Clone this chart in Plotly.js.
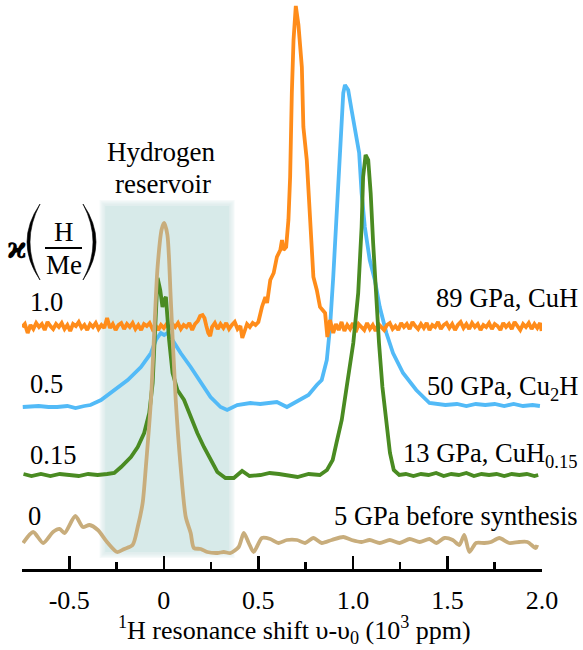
<!DOCTYPE html>
<html>
<head>
<meta charset="utf-8">
<script src="https://cdn.plot.ly/plotly-3.0.1.min.js"></script>
<style>html,body{margin:0;padding:0;background:#fff;} #chart{width:583px;height:650px;}</style>
</head>
<body>
<div id="chart"></div>
<script>
// ---- Data (x in 10^3 ppm, intensity in arbitrary units relative to each baseline) ----
const seriesNames = ["89 GPa, CuH", "50 GPa, Cu<sub>2</sub>H", "13 GPa, CuH<sub>0.15</sub>", "5 GPa before synthesis"];
const kappaLabels = ["1.0", "0.5", "0.15", "0"];
const offsets = [2.42, 1.64, 0.94, 0.28];

const orangeX = [
 -0.750,-0.735,-0.720,-0.705,-0.690,-0.675,-0.660,-0.645,-0.630,-0.615,
 -0.600,-0.585,-0.570,-0.555,-0.540,-0.525,-0.510,-0.495,-0.480,-0.465,
 -0.450,-0.435,-0.420,-0.405,-0.390,-0.375,-0.360,-0.345,-0.330,-0.315,
 -0.300,-0.285,-0.270,-0.255,-0.240,-0.225,-0.210,-0.195,-0.180,-0.165,
 -0.150,-0.135,-0.120,-0.105,-0.090,-0.075,-0.060,-0.045,-0.030,-0.015,
 0.000,0.015,0.030,0.045,0.060,0.075,0.090,0.105,0.120,0.135,
 0.150,0.165,0.180,0.192,0.205,0.215,0.225,0.235,0.245,0.255,
 0.270,0.285,0.300,0.315,0.330,0.345,0.360,0.375,0.390,0.405,
 0.415,0.425,0.440,0.455,0.470,0.485,0.500,
 0.519,0.537,0.546,0.563,0.581,0.598,0.616,0.625,0.633,0.647,0.659,0.668,0.677,0.686,0.698,0.712,0.730,0.738,0.756,0.774,0.791,0.809,0.826,0.853,0.865,0.879,0.896,
 0.910,0.925,0.940,0.955,0.970,0.985,1.000,1.015,1.030,1.045,
 1.060,1.075,1.090,1.105,1.120,1.135,1.150,1.165,1.180,1.195,
 1.210,1.225,1.240,1.255,1.270,1.285,1.300,1.315,1.330,1.345,
 1.360,1.375,1.390,1.405,1.420,1.435,1.450,1.465,1.480,1.495,
 1.510,1.525,1.540,1.555,1.570,1.585,1.600,1.615,1.630,1.645,
 1.660,1.675,1.690,1.705,1.720,1.735,1.750,1.765,1.780,1.795,
 1.810,1.825,1.840,1.855,1.870,1.885,1.900,1.915,1.930,1.945,
 1.960,1.975,1.990,1.998];
const orangeY = [
 0.00,0.03,-0.06,0.02,-0.02,0.04,0.00,0.03,-0.03,0.05,
 0.01,-0.02,0.03,0.00,0.04,-0.02,0.02,-0.04,0.03,0.01,
 0.05,-0.01,0.02,-0.03,0.03,0.00,0.04,-0.02,0.02,-0.01,
 0.09,-0.01,0.03,-0.03,0.02,0.04,-0.02,0.03,0.00,0.04,
 -0.02,0.02,-0.03,0.03,0.01,0.04,-0.02,0.02,-0.03,0.02,
 -0.01,0.03,-0.02,0.03,0.00,0.04,-0.02,0.02,0.00,0.04,
 -0.03,0.03,0.06,0.11,0.12,0.09,0.01,-0.06,-0.09,0.00,
 0.04,-0.02,0.03,-0.01,0.04,-0.02,0.02,0.05,-0.02,0.01,
 -0.11,-0.04,0.03,0.00,0.04,0.02,0.05,
 0.20,0.30,0.24,0.47,0.54,0.70,0.77,0.87,0.77,0.80,1.07,1.50,2.34,2.87,3.21,3.02,2.60,2.00,1.67,1.00,0.50,0.37,0.20,0.14,-0.10,0.07,-0.06,
 0.03,-0.03,0.05,-0.04,0.02,-0.02,0.04,-0.05,0.03,0.00,
 -0.03,0.04,-0.02,0.02,-0.04,0.03,0.00,-0.03,0.02,0.04,
 -0.02,0.01,-0.03,0.04,0.00,0.03,-0.02,0.05,0.01,-0.02,
 0.03,-0.01,0.04,-0.03,0.02,0.00,0.05,-0.02,0.02,0.04,
 -0.01,0.03,-0.03,0.02,0.05,-0.01,0.03,-0.02,0.04,0.00,
 0.03,-0.03,0.02,0.00,0.04,-0.02,0.03,0.01,-0.03,0.04,
 0.00,0.03,-0.02,0.05,0.01,-0.03,0.03,0.00,0.04,-0.02,
 0.03,-0.01,0.04,-0.04];

const blueX = [-0.746,-0.700,-0.662,-0.610,-0.564,-0.510,-0.467,-0.420,-0.388,-0.332,-0.262,-0.191,-0.121,-0.068,-0.042,-0.016,0.002,0.019,0.046,0.089,0.142,0.195,0.247,0.300,0.335,0.388,0.458,0.510,0.563,0.598,0.651,0.721,0.765,0.809,0.835,0.862,0.879,0.896,0.917,0.935,0.949,0.958,0.975,0.993,1.016,1.033,1.046,1.063,1.089,1.116,1.142,1.177,1.212,1.265,1.335,1.405,1.489,1.550,1.600,1.650,1.700,1.750,1.800,1.850,1.900,1.950,1.989];
const blueY = [-0.02,-0.01,-0.01,-0.02,-0.02,-0.01,-0.03,-0.01,0.00,0.05,0.15,0.25,0.38,0.52,0.65,0.72,0.70,0.72,0.65,0.52,0.38,0.22,0.08,-0.02,-0.05,0.00,0.02,0.01,0.02,0.03,-0.02,0.05,0.10,0.20,0.25,0.45,0.78,1.28,1.95,2.62,3.12,3.20,3.15,2.95,2.72,2.52,2.12,1.78,1.45,1.25,0.98,0.72,0.52,0.32,0.15,0.02,0.00,0.01,-0.01,0.01,0.00,0.01,-0.01,0.01,-0.01,0.00,-0.01];

const greenX = [-0.742,-0.700,-0.650,-0.600,-0.550,-0.500,-0.450,-0.400,-0.350,-0.300,-0.262,-0.226,-0.174,-0.138,-0.104,-0.077,-0.059,-0.051,-0.042,-0.033,-0.019,-0.007,0.002,0.011,0.019,0.028,0.046,0.072,0.107,0.142,0.177,0.212,0.247,0.283,0.326,0.370,0.414,0.453,0.511,0.560,0.609,0.660,0.707,0.766,0.825,0.863,0.893,0.913,0.941,0.967,1.002,1.028,1.046,1.054,1.067,1.081,1.094,1.107,1.121,1.138,1.156,1.174,1.196,1.216,1.245,1.280,1.320,1.360,1.400,1.440,1.480,1.520,1.560,1.600,1.640,1.680,1.720,1.760,1.800,1.840,1.880,1.920,1.960,1.980];
const greenY = [0.01,-0.01,0.01,-0.01,0.01,0.00,-0.01,0.01,0.00,0.01,0.02,0.08,0.18,0.28,0.42,0.62,0.92,1.25,1.68,1.97,1.85,1.68,1.75,1.78,1.58,1.35,1.02,0.85,0.75,0.58,0.42,0.28,0.15,0.03,-0.03,-0.03,0.04,-0.01,0.00,0.02,0.01,-0.01,-0.02,0.01,0.00,0.05,0.15,0.32,0.55,0.88,1.32,1.82,2.48,2.98,3.20,3.15,2.82,2.32,1.82,1.32,0.88,0.55,0.22,0.05,0.00,0.01,-0.01,0.01,0.00,0.02,-0.01,0.01,0.00,0.02,-0.01,0.01,0.00,0.01,-0.01,0.01,0.00,0.01,-0.01,0.00];

const tanX = [-0.744,-0.691,-0.638,-0.586,-0.551,-0.525,-0.468,-0.428,-0.393,-0.349,-0.296,-0.247,-0.209,-0.165,-0.138,-0.112,-0.095,-0.068,-0.051,-0.033,-0.011,0.002,0.019,0.037,0.063,0.089,0.116,0.142,0.159,0.195,0.230,0.283,0.317,0.353,0.396,0.423,0.449,0.475,0.519,0.563,0.607,0.651,0.704,0.747,0.791,0.835,0.888,0.949,0.993,1.046,1.089,1.142,1.195,1.247,1.300,1.353,1.405,1.441,1.484,1.528,1.563,1.589,1.616,1.651,1.695,1.730,1.774,1.826,1.879,1.923,1.967,1.975];
const tanY = [-0.02,0.09,-0.02,0.09,0.12,0.08,0.25,0.14,0.16,0.11,-0.02,-0.11,-0.08,-0.04,0.14,0.38,0.74,1.41,2.08,2.74,3.12,3.18,3.06,2.41,1.41,0.74,0.24,0.08,-0.07,-0.08,-0.11,-0.12,-0.11,-0.12,-0.06,0.08,-0.02,-0.11,0.03,0.02,-0.02,0.01,0.01,-0.02,0.03,-0.02,0.01,0.04,0.01,-0.01,0.01,-0.02,0.01,-0.02,0.02,-0.01,0.02,-0.02,0.03,0.01,-0.04,0.06,-0.11,-0.02,-0.02,-0.01,0.03,-0.02,-0.01,-0.01,-0.07,-0.04];

const reservoir = [-0.31, 0.345]; // x-extent of shaded hydrogen-reservoir band

const tickVals = [-0.5, 0, 0.5, 1.0, 1.5, 2.0];
const tickText = ["-0.5", "0", "0.5", "1.0", "1.5", "2.0"];
const minorTickVals = [-0.75, -0.25, 0.25, 0.75, 1.25, 1.75];

// ---- Styling ----
const colors = ["#FF8C1A", "#52BAF7", "#4A8B22", "#C8AD7C"];
const serif = "'Liberation Serif', 'Times New Roman', serif";
const W = 583, H = 650, ML = 22, MR = 41, MT = 0, MB = 81;
const PW = W - ML - MR, PH = H - MT - MB;
const px = v => (v - ML) / PW;          // pixel x -> paper x
const py = v => (PH + MT - v) / PH;      // pixel y -> paper y

function shift(arr, off) { return arr.map(v => v + off); }

const traces = [
  {x: blueX, y: shift(blueY, offsets[1]), color: colors[1], shape: 'linear'},
  {x: orangeX, y: shift(orangeY, offsets[0]), color: colors[0], shape: 'linear'},
  {x: greenX, y: shift(greenY, offsets[2]), color: colors[2], shape: 'linear'},
  {x: tanX, y: shift(tanY, offsets[3]), color: colors[3], shape: 'spline'}
].map(t => ({x: t.x, y: t.y, type: 'scatter', mode: 'lines', hoverinfo: 'skip',
  line: {color: t.color, width: 3.8, shape: t.shape, smoothing: 0.7}}));

const shapes = [];
// soft-edged shaded band
const bandY = [0.17, 3.63];
for (let i = 5; i >= 1; i--) {
  shapes.push({type: 'rect', xref: 'x', yref: 'y', layer: 'below', line: {width: 0},
    x0: reservoir[0] - 0.006 * i, x1: reservoir[1] + 0.006 * i, y0: bandY[0] - 0.012 * i, y1: bandY[1] + 0.012 * i,
    fillcolor: 'rgba(215,234,233,0.22)'});
}
shapes.push({type: 'rect', xref: 'x', yref: 'y', layer: 'below', line: {width: 0},
  x0: reservoir[0], x1: reservoir[1], y0: bandY[0], y1: bandY[1], fillcolor: 'rgb(215,234,233)'});

// kappa(H/Me) parentheses and fraction bar
function paren(xEnd, xOuter, xInner, yTop, yBot) {
  const ym = (yTop + yBot) / 2;
  return `M ${px(xEnd)},${py(yTop)} Q ${px(xOuter)},${py(ym)} ${px(xEnd)},${py(yBot)} Q ${px(xInner)},${py(ym)} ${px(xEnd)},${py(yTop)} Z`;
}
shapes.push({type: 'path', xref: 'paper', yref: 'paper', path: paren(40, 14, 20, 204, 280), fillcolor: 'black', line: {color: 'black', width: 0.6}});
shapes.push({type: 'path', xref: 'paper', yref: 'paper', path: paren(83, 109, 103, 204, 280), fillcolor: 'black', line: {color: 'black', width: 0.6}});
shapes.push({type: 'line', xref: 'paper', yref: 'paper', x0: px(45), x1: px(82), y0: py(248), y1: py(248), line: {color: 'black', width: 2}});

const fs = 26.5;
const ann = (text, x, y, xa, size) => ({text, x: px(x), y: py(y), xref: 'paper', yref: 'paper',
  xanchor: xa, yanchor: 'middle', showarrow: false, font: {family: serif, size: size || fs, color: 'black'}});

const annotations = [
  ann("Hydrogen", 161, 152, 'center', 27),
  ann("reservoir", 163, 184, 'center', 27),
  ann("H", 64, 232, 'center', 27),
  ann("Me", 64, 265, 'center', 27),
  {text: "ϰ", x: px(17), y: py(248), xref: 'paper', yref: 'paper', xanchor: 'center', yanchor: 'middle', showarrow: false,
   font: {family: "'DejaVu Serif'", size: 30, color: 'black', weight: 'bold'}},
  ann(kappaLabels[0], 28, 302, 'left'),
  ann(kappaLabels[1], 28, 384, 'left'),
  ann(kappaLabels[2], 28, 455, 'left'),
  ann(kappaLabels[3], 26, 516, 'left'),
  ann(seriesNames[0], 580, 298, 'right'),
  ann(seriesNames[1], 580, 388, 'right'),
  ann(seriesNames[2], 580, 455, 'right'),
  ann(seriesNames[3], 580, 516, 'right'),
  ann("<sup>1</sup>H resonance shift υ-υ<sub>0</sub> (10<sup>3</sup> ppm)", 294, 630, 'center', 26)
];

const layout = {
  width: W, height: H,
  margin: {l: ML, r: MR, t: MT, b: MB, pad: 0},
  paper_bgcolor: 'white', plot_bgcolor: 'white',
  showlegend: false,
  font: {family: serif, color: 'black'},
  xaxis: {range: [-0.75, 2.0], showgrid: false, zeroline: false, showline: true, linecolor: 'black', linewidth: 3,
    ticks: 'inside', ticklen: 13, tickwidth: 2.5, tickcolor: 'black',
    tickmode: 'array', tickvals: tickVals, ticktext: tickText,
    tickfont: {family: serif, size: 26, color: 'black'}, ticklabelstandoff: 6,
    minor: {tickmode: 'array', tickvals: minorTickVals, ticks: 'inside', ticklen: 7, tickwidth: 2.5, tickcolor: 'black'},
    fixedrange: true},
  yaxis: {range: [0, PH / 100], visible: false, fixedrange: true},
  shapes, annotations
};

Plotly.newPlot('chart', traces, layout, {displayModeBar: false, staticPlot: true});
</script>
</body>
</html>
